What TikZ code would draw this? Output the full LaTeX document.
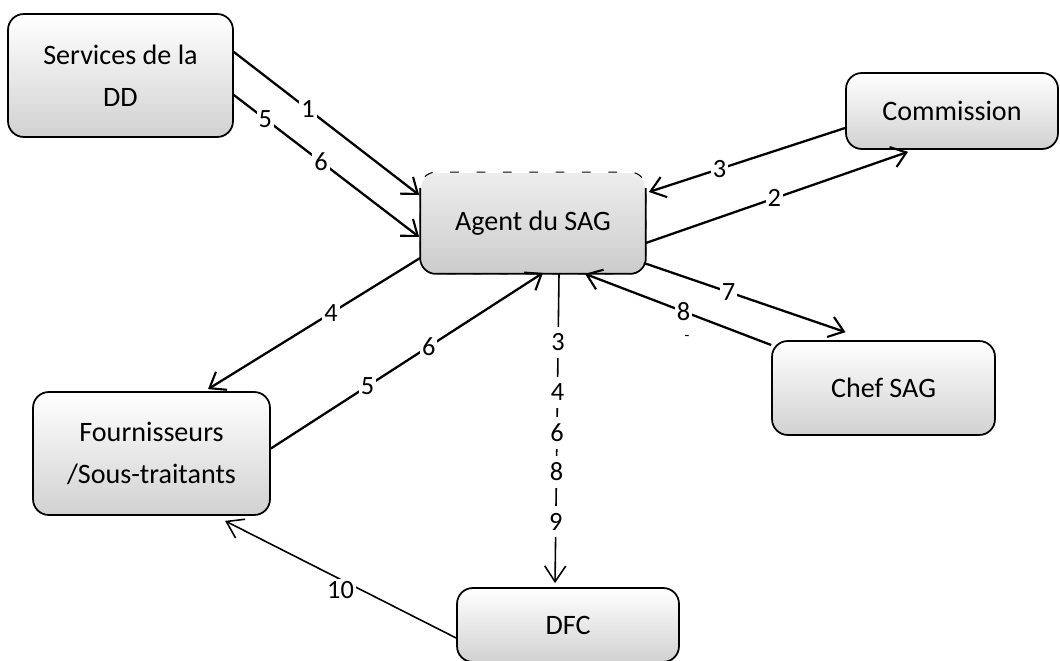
\documentclass[tikz,border=0pt]{standalone}
\usepackage{fontspec}
\setmainfont{Carlito}
\usetikzlibrary{arrows.meta,calc}

\tikzset{
  box/.style={draw, rounded corners=9pt, line width=1pt,
    top color=white, middle color=gray!8, bottom color=gray!36,
    inner sep=0pt, align=center, font=\fontsize{16}{24}\selectfont},
  hubbox/.style={box, draw=none, top color=gray!14, middle color=gray!22,
    bottom color=gray!40},
  flow/.style={line width=1.3pt, -{Straight Barb[length=8pt,width=12pt,line width=1.2pt]}},
  thinflow/.style={line width=0.9pt, -{Straight Barb[length=9pt,width=12pt,line width=0.9pt]}},
  lab/.style={fill=white, inner sep=1.2pt, font=\fontsize{15}{15}\selectfont},
  vlab/.style={lab, inner ysep=4pt},
}

\begin{document}
\begin{tikzpicture}[x=0.02cm, y=-0.02cm]
  \clip (0,0) rectangle (1060,661);
  \fill[white] (0,0) rectangle (1060,661);

  % the six actors
  \node[box, minimum width=4.5cm, minimum height=2.46cm] (svc) at (120.5,75.5)
    {Services de la\\DD};
  \node[hubbox, minimum width=4.48cm, minimum height=2.0cm] (agent) at (533,223)
    {Agent du SAG};
  \node[box, minimum width=4.24cm, minimum height=1.52cm] (comm) at (952,111)
    {Commission};
  \node[box, minimum width=4.46cm, minimum height=1.88cm] (chef) at (883.5,388)
    {Chef SAG};
  \node[box, minimum width=4.74cm, minimum height=2.46cm,
        font=\fontsize{16}{23.5}\selectfont] (four) at (151.5,453.5)
    {Fournisseurs\\/Sous-traitants};
  \node[box, minimum width=4.44cm, minimum height=1.48cm] (dfc) at (568,625)
    {DFC};

  % outline of the central box: dashed top edge, solid elsewhere
  \draw[line width=0.6pt, dash pattern=on 5pt off 10pt, rounded corners=9pt]
    (agent.north west) rectangle (agent.south east);
  \draw[line width=1pt, rounded corners=9pt]
    ($(agent.north west)+(0,16)$) -- (agent.south west) -- (agent.south east)
    -- ($(agent.north east)+(0,16)$);

  % exchanges with the services
  \draw[flow] ($(svc.east)+(0,-23.5)$) -- node[lab, pos=0.40] {1}
    ($(agent.west)+(-1,-28)$);
  \draw[flow] ($(svc.east)+(0,19.5)$) -- node[lab, pos=0.17] {5}
    node[lab, pos=0.47] {6} ($(agent.west)+(-1,14)$);

  % exchanges with the commission
  \draw[flow] ($(comm.west)+(0,17)$) -- node[lab, pos=0.64] {3}
    ($(agent.east)+(3,-31)$);
  \draw[flow] ($(agent.east)+(0,20)$) -- node[lab, pos=0.49] {2}
    ($(comm.south)+(-44,2)$);

  % exchanges with the suppliers
  \draw[flow] ($(agent.west)+(0,35)$) -- node[lab, pos=0.42] {4}
    ($(four.north)+(56.5,-2)$);
  \draw[flow] ($(four.east)+(0,-5)$) -- node[lab, pos=0.355] {5}
    node[lab, pos=0.58] {6} ($(agent.south)+(10,-1)$);

  % exchanges with the head of the SAG
  \draw[flow] ($(agent.east)+(-2,40)$) -- node[lab, pos=0.42] {7}
    ($(chef.north)+(-38,-8)$);
  \draw[flow] ($(chef.west)+(0,-43)$) -- node[lab, pos=0.47] {8}
    ($(agent.south)+(52,0)$);
  \node[font=\fontsize{9}{9}\selectfont] (stray) at (687,338) {-};

  % transmission to the DFC
  \draw[thinflow] ($(agent.south)+(26,0)$) --
    node[vlab, pos=0.222] {3}
    node[vlab, pos=0.383] {4}
    node[vlab, pos=0.514] {6}
    node[vlab, pos=0.640] {8}
    node[vlab, pos=0.801] {9}
    ($(dfc.north)+(-13,-4)$);

  % payment back to the suppliers
  \draw[thinflow] ($(dfc.west)+(0,13)$) --
    node[lab, pos=0.5, yshift=-6pt] {10}
    ($(four.south)+(73.5,5)$);
\end{tikzpicture}
\end{document}
